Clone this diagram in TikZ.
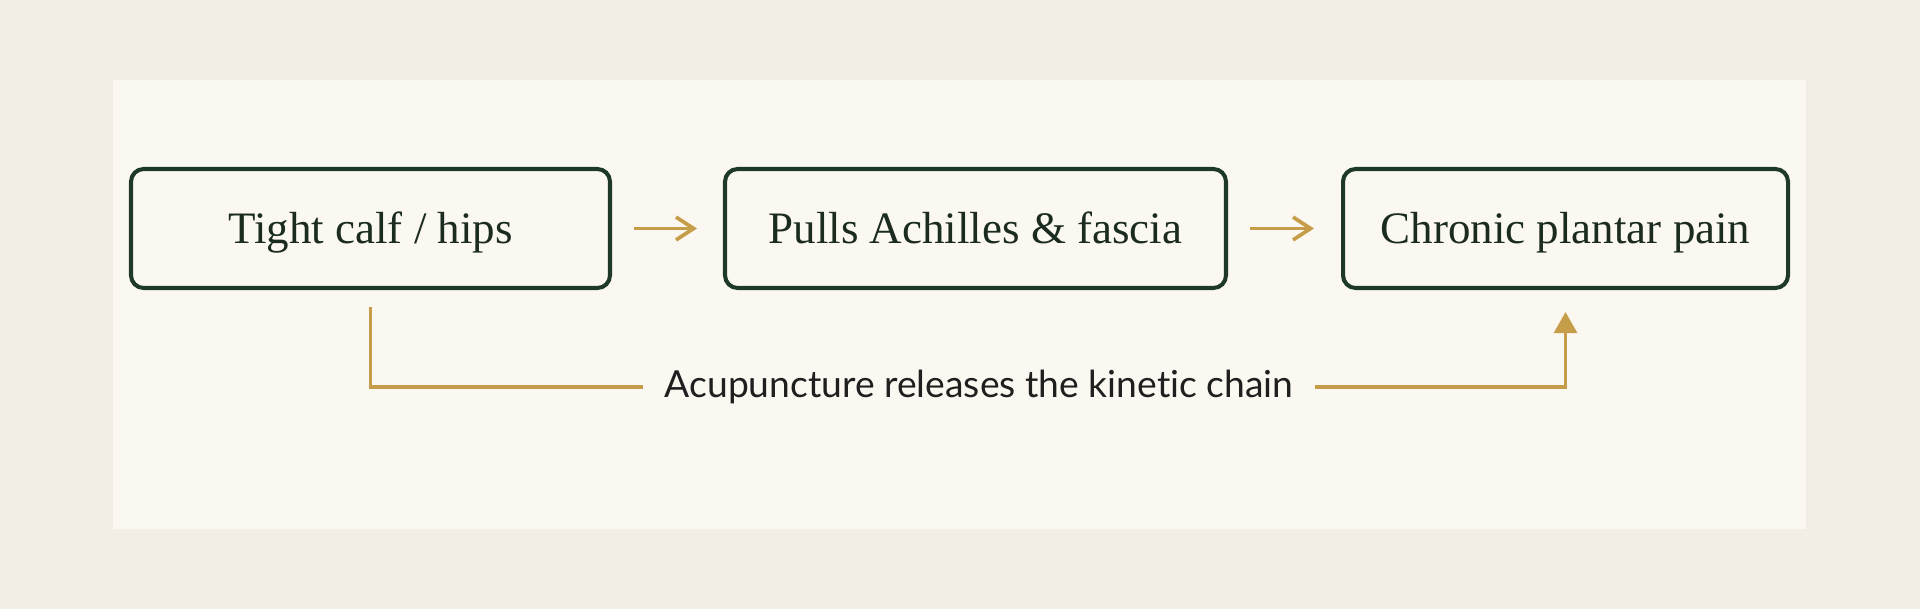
\documentclass[tikz,border=0pt]{standalone}
\usepackage{fontspec}
\setmainfont{Liberation Serif}
\newfontfamily\chainfont[Ligatures={NoCommon,NoRare}]{Lato}
\usetikzlibrary{arrows.meta}

\definecolor{pagebg}{HTML}{F2EEE5}
\definecolor{panelbg}{HTML}{FBF8F1}
\definecolor{pine}{HTML}{1E3A26}
\definecolor{pinetext}{HTML}{1B2B20}
\definecolor{gold}{HTML}{C69D48}
\definecolor{chaintext}{HTML}{1F1F1F}

\begin{document}
\begin{tikzpicture}[
    stepbox/.style={draw=pine, line width=1.15pt, rounded corners=3.6pt,
      minimum height=1.19cm, text height=11pt, text depth=2.3pt,
      text=pinetext, font=\fontsize{12.8}{15}\selectfont},
    leadsto/.style={draw=gold, line width=1.05pt,
      -{Straight Barb[length=5pt, width=6.5pt]}},
    release/.style={draw=gold, line width=1.05pt}
  ]
      \useasboundingbox (0, 0) rectangle (19.2, -6.09);
      \fill [pagebg] (0, 0) rectangle (19.2, -6.09);
      \fill [panelbg] (1.13, -0.80) rectangle (18.06, -5.29);

      \draw (3.705, -2.285) node [stepbox, minimum width=4.79cm] (tight) {Tight calf / hips};
      \draw (9.755, -2.285) node [stepbox, minimum width=5.01cm] (pulls) {Pulls Achilles \& fascia};
      \draw (15.655, -2.285) node [stepbox, minimum width=4.45cm] (plantar) {Chronic plantar pain};

      \draw [leadsto, shorten <=0.22cm, shorten >=0.26cm] (tight) -- (pulls);
      \draw [leadsto, shorten <=0.22cm, shorten >=0.27cm] (pulls) -- (plantar);

      %%%%%%%%%%%%%%%%%%%%%%%%%%%%%%%%%%%%%%%%%%%%%%%%%%%%%%%%%%%%%%
      % Release loop
      %%%%%%%%%%%%%%%%%%%%%%%%%%%%%%%%%%%%%%%%%%%%%%%%%%%%%%%%%%%%%%
      \draw (9.79, -3.87) node [inner xsep=0.21cm, inner ysep=0pt, text=chaintext,
        font=\chainfont\fontsize{10.6}{12}\selectfont] (chain) {Acupuncture releases the kinetic chain};
      \draw [release, shorten <=0.17cm] (tight.south) |- (chain.west);
      \draw [release, shorten >=0.22cm, -{Triangle[length=6pt, width=6.5pt]}]
        (chain.east) -| (plantar.south);
    \end{tikzpicture}
\end{document}
